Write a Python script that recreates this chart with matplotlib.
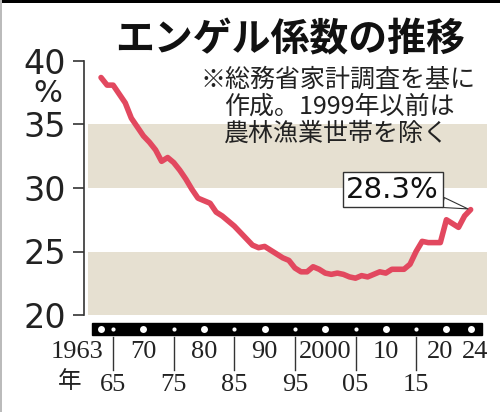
import matplotlib
matplotlib.use("Agg")
import matplotlib.pyplot as plt
import matplotlib.transforms as mtransforms
from matplotlib.patches import Rectangle

# エンゲル係数（二人以上世帯）, 1963-2024
years = list(range(1963, 2025))
engel = [38.7, 38.1, 38.1, 37.4, 36.7, 35.5, 34.8, 34.1, 33.6, 33.0,
         32.1, 32.4, 32.0, 31.4, 30.7, 29.9, 29.2, 29.0, 28.8, 28.1,
         27.8, 27.4, 27.0, 26.5, 26.0, 25.5, 25.3, 25.4, 25.1, 24.8,
         24.5, 24.3, 23.7, 23.4, 23.4, 23.8, 23.6, 23.3, 23.2, 23.3,
         23.2, 23.0, 22.9, 23.1, 23.0, 23.2, 23.4, 23.3, 23.6, 23.6,
         23.6, 24.0, 25.0, 25.8, 25.7, 25.7, 25.7, 27.5, 27.2, 26.9,
         27.8, 28.3]

y_ticks = [20, 25, 30, 35, 40]
bands = [(20, 25), (30, 35)]

top_years = [1963, 1970, 1980, 1990, 2000, 2010, 2020, 2024]
top_labels = ["1963", "70", "80", "90", "2000", "10", "20", "24"]
bottom_years = [1965, 1975, 1985, 1995, 2005, 2015]
bottom_labels = ["65", "75", "85", "95", "05", "15"]

title = "エンゲル係数の推移"
note_lines = ["※総務省家計調査を基に", "作成。1999年以前は", "農林漁業世帯を除く"]

W, H = 500, 412
LINE_COLOR = "#e2485f"
BAND_COLOR = "#e6e0d1"
INK = "#222222"
CJK = ["Noto Sans CJK JP", "DejaVu Sans"]


def fx(px):
    return px / W


def fy(py):
    return 1 - py / H


fig = plt.figure(figsize=(W / 100, H / 100), dpi=100)
ax = fig.add_axes([fx(88), fy(315), (487 - 88) / W, (315 - 61) / H])
ax.set_facecolor("white")

for lo, hi in bands:
    ax.axhspan(lo, hi, color=BAND_COLOR, lw=0, zorder=0)

ax.plot(years, engel, color=LINE_COLOR, lw=4.0, solid_joinstyle="round",
        solid_capstyle="round", zorder=3, clip_on=False)

ax.set_xlim(1960.85, 2026.7)
ax.set_ylim(20, 40)
ax.set_yticks(y_ticks)
ax.set_yticklabels([str(v) for v in y_ticks])
ax.tick_params(axis="y", length=8, width=1.2, color="#333333", pad=5,
               labelsize=24, labelcolor=INK)
ax.set_xticks([])
for side in ["top", "right", "bottom"]:
    ax.spines[side].set_visible(False)
ax.spines["left"].set_position(("outward", 3))
ax.spines["left"].set_color("#333333")
ax.spines["left"].set_linewidth(1.2)

fig.text(fx(48), fy(94), "%", fontsize=22, color=INK, ha="center", va="center")

# black year bar under the plot
trans = mtransforms.blended_transform_factory(ax.transData, ax.transAxes)
bar = Rectangle((years[0] - 1.5, -0.079), (years[-1] + 1.85) - (years[0] - 1.5), 0.047,
                transform=trans, color="black", clip_on=False, zorder=4)
ax.add_patch(bar)
ax.plot(top_years, [-0.055] * len(top_years), "o", ms=5, color="white",
        mew=0, transform=trans, clip_on=False, zorder=5)
ax.plot(bottom_years, [-0.055] * len(bottom_years), "o", ms=3, color="white",
        mew=0, transform=trans, clip_on=False, zorder=5)
for yr in bottom_years:
    ax.plot([yr, yr], [-0.085, -0.215], color="#333333", lw=1.0,
            transform=trans, clip_on=False)

label_shift = {"1963": 0.4, "20": -1.0, "24": 0.7}
for yr, lab in zip(top_years, top_labels):
    ha = "right" if lab == "1963" else "center"
    ax.text(yr + label_shift.get(lab, 0), -0.146, lab, transform=trans, ha=ha,
            va="center", fontsize=19, family="Liberation Serif", color=INK)
for yr, lab in zip(bottom_years, bottom_labels):
    ax.text(yr, -0.276, lab, transform=trans, ha="center", va="center",
            fontsize=19, family="Liberation Serif", color=INK)
fig.text(fx(70), fy(381), "年", fontsize=17, family=CJK, color=INK,
         ha="center", va="center")

# title and note
fig.text(fx(290), fy(40), title, fontsize=28, fontweight="bold", family=CJK,
         color="#111111", ha="center", va="center")
note_x = [200, 224, 224]
note_y = [80, 107, 134]
for x, y, line in zip(note_x, note_y, note_lines):
    fig.text(fx(x), fy(y), line, fontsize=18, family=CJK, color=INK,
             ha="left", va="center")

# latest value callout
ax.annotate(f"{engel[-1]}%", xy=(years[-1], engel[-1]), xytext=(-78, 20),
            textcoords="offset pixels", ha="center", va="center", fontsize=21,
            color="#111111", zorder=6,
            bbox=dict(boxstyle="square,pad=0.12", fc="white", ec="#333333", lw=1.0),
            arrowprops=dict(arrowstyle="wedge,tail_width=0.35", fc="white",
                            ec="#333333", lw=0.8, shrinkA=0, shrinkB=2))

# frame lines of the clipping
fig.add_artist(Rectangle((0, fy(3)), 1, 3 / H, transform=fig.transFigure,
                         color="black", lw=0))
fig.add_artist(Rectangle((0, 0), 2 / W, 1, transform=fig.transFigure,
                         color="#bbbbbb", lw=0))

fig.savefig("out.png", dpi=100, facecolor="white")
